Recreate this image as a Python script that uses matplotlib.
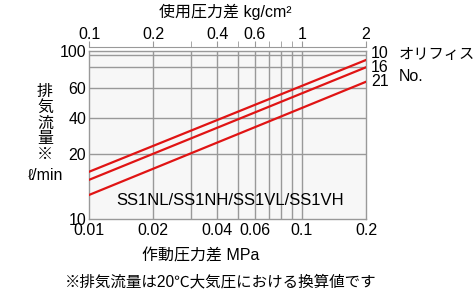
import numpy as np
import matplotlib
matplotlib.use("Agg")
import matplotlib.pyplot as plt
from matplotlib.ticker import FixedLocator, FixedFormatter, NullFormatter

plt.rcParams['font.family'] = ['Liberation Sans', 'Noto Sans CJK JP', 'DejaVu Sans']

# data (MPa vs l/min)
pressure = [0.01, 0.2]
orifice_names = ["10", "16", "21"]
flow = {
    "10": [19.1, 88.4],
    "16": [17.1, 80.0],
    "21": [13.9, 65.6],
}

x_ticks = [0.01, 0.02, 0.04, 0.06, 0.1, 0.2]
x_labels = ["0.01", "0.02", "0.04", "0.06", "0.1", "0.2"]
x_grid = [0.02, 0.03, 0.04, 0.05, 0.06, 0.07, 0.08, 0.09, 0.1]
# the reference draws its "20" grid line higher than a true log position
y_ticks = [10, 24.5, 40, 60, 100]
y_labels = ["10", "20", "40", "60", "100"]
y_grid = [24.5, 40, 60, 80, 95]

top_ticks = [0.1, 0.2, 0.4, 0.6, 1, 2]
top_labels = ["0.1", "0.2", "0.4", "0.6", "1", "2"]
top_minor = [0.3, 0.5, 0.7, 0.8, 0.9]

W, H = 475, 300
fs = 11.5
fig = plt.figure(figsize=(W / 100, H / 100), dpi=100)
L, R, B, T = 89, 366, 219, 51
ax = fig.add_axes([L / W, 1 - B / H, (R - L) / W, (B - T) / H])
ax.set_facecolor("#f7f7f7")
ax.set_xscale("log")
ax.set_yscale("log")
ax.set_xlim(0.01, 0.2)
ax.set_ylim(10, 100)

gc = "#999999"
for xv in x_grid:
    ax.axvline(xv, color=gc, lw=1, zorder=1)
for yv in y_grid:
    ax.axhline(yv, color=gc, lw=1, zorder=1)

for name in orifice_names:
    ax.plot(pressure, flow[name], color="#e01414", lw=1.6, zorder=3)

ax.xaxis.set_major_locator(FixedLocator(x_ticks))
ax.xaxis.set_major_formatter(FixedFormatter(x_labels))
ax.xaxis.set_minor_locator(FixedLocator([]))
ax.xaxis.set_minor_formatter(NullFormatter())
ax.yaxis.set_major_locator(FixedLocator(y_ticks))
ax.yaxis.set_major_formatter(FixedFormatter(y_labels))
ax.yaxis.set_minor_locator(FixedLocator([]))
ax.yaxis.set_minor_formatter(NullFormatter())
ax.tick_params(axis="both", length=0, labelsize=fs)
ax.tick_params(axis="x", pad=3)
ax.tick_params(axis="y", pad=2)
for s in ax.spines.values():
    s.set_color(gc)
    s.set_linewidth(1)

ax.text(0.51, 0.113, "SS1NL/SS1NH/SS1VL/SS1VH", transform=ax.transAxes,
        ha="center", va="center", fontsize=12)

# top axis in kg/cm2
tax = fig.add_axes([L / W, 1 - 47 / H, (R - L) / W, 0])
tax.set_xscale("log")
tax.set_xlim(0.1, 2)
tax.set_yticks([])
for k in ["left", "right", "bottom"]:
    tax.spines[k].set_visible(False)
tax.spines["top"].set_color(gc)
tax.xaxis.set_ticks_position("top")
tax.xaxis.set_major_locator(FixedLocator(top_ticks))
tax.xaxis.set_major_formatter(FixedFormatter(top_labels))
tax.xaxis.set_minor_locator(FixedLocator(top_minor))
tax.xaxis.set_minor_formatter(NullFormatter())
tax.tick_params(axis="x", which="both", direction="out", length=4, color=gc,
                labelsize=fs, pad=-0.5)

fig.text(225 / W, 1 - 12 / H, "使用圧力差 kg/cm²", ha="center", va="center", fontsize=fs)

# right side orifice labels
for name, yp in zip(orifice_names, [53, 67, 81]):
    fig.text(371 / W, 1 - yp / H, name, ha="left", va="center", fontsize=fs)
fig.text(399 / W, 1 - 55 / H, "オリフィス", ha="left", va="center", fontsize=11)
fig.text(399 / W, 1 - 76 / H, "No.", ha="left", va="center", fontsize=fs)

# y label, stacked vertically
fig.text(45 / W, 1 - 123 / H, "排\n気\n流\n量\n※", ha="center", va="center",
         fontsize=11.5, linespacing=1.05)
fig.text(46 / W, 1 - 176 / H, "ℓ/min", ha="center", va="center", fontsize=fs)

fig.text(201 / W, 1 - 256 / H, "作動圧力差 MPa", ha="center", va="center", fontsize=fs)
fig.text(221 / W, 1 - 282 / H, "※排気流量は20℃大気圧における換算値です",
         ha="center", va="center", fontsize=11.2)

fig.savefig("out.png", dpi=100)
